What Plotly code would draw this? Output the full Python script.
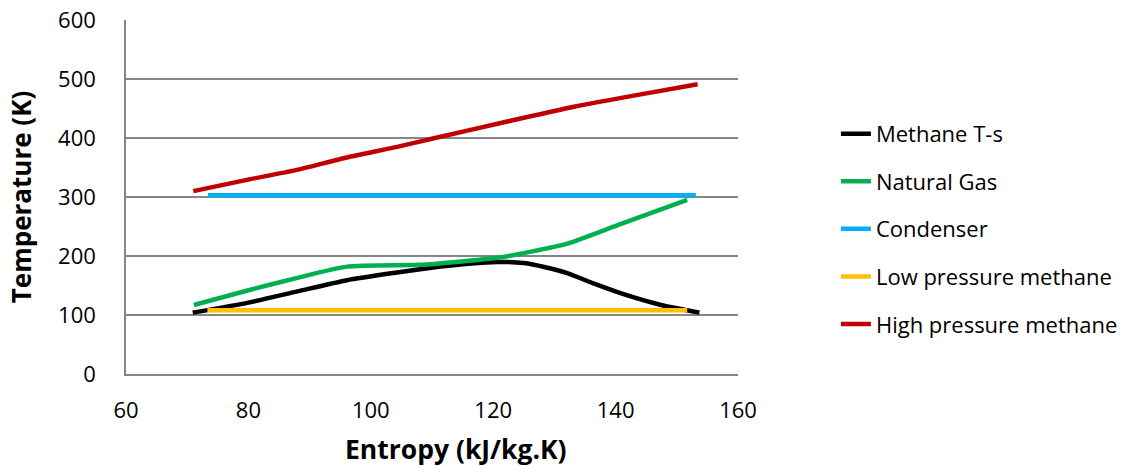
import plotly.graph_objects as go

# Data
methane_s = [70.9, 80.0, 88.0, 96.1, 104.3, 111.4, 116.0, 120.7, 125.0, 128.5, 132.1, 136.5, 140.8, 147.4, 153.7]
methane_T = [104, 121, 140, 159, 172, 182, 187, 190, 188, 181, 171, 153, 137, 117, 104]

gas_s = [71.1, 80.0, 88.0, 96.1, 108.1, 114.0, 120.7, 126.0, 132.1, 141.0, 151.7]
gas_T = [117, 142, 163, 182, 185, 190, 197, 207, 221, 255, 295]

cond_s = [73.4, 153.1]
cond_T = [303, 303]

lp_s = [73.3, 151.7]
lp_T = [108, 108]

hp_s = [71.0, 79.75, 87.9, 96.1, 104.3, 110.5, 122.3, 133.2, 144.1, 153.4]
hp_T = [310, 329, 346, 367, 385, 400, 428, 453, 474, 491]

series = [
    ("Methane T-s", methane_s, methane_T, "#000000", "spline"),
    ("Natural Gas", gas_s, gas_T, "#00B050", "spline"),
    ("Condenser", cond_s, cond_T, "#00B0F0", "linear"),
    ("Low pressure methane", lp_s, lp_T, "#FFC000", "linear"),
    ("High pressure methane", hp_s, hp_T, "#C00000", "spline"),
]

x_title = "Entropy (kJ/kg.K)"
y_title = "Temperature (K)"

fig = go.Figure()
for i, (name, xs, ys, col, shape) in enumerate(series):
    fig.add_trace(go.Scatter(
        x=xs, y=ys, mode="lines", name=name, legendgroup=str(i),
        line=dict(color=col, width=4.5, shape=shape, smoothing=0.6),
    ))

font_family = "Open Sans, Liberation Sans, sans-serif"
fig.update_layout(
    width=1136, height=466,
    margin=dict(l=126, r=398, t=20, b=92),
    paper_bgcolor="white", plot_bgcolor="white",
    font=dict(family=font_family, size=21, color="#000000"),
    showlegend=True,
    legend=dict(
        x=1.160, y=0.41, xanchor="left", yanchor="middle",
        traceorder="grouped", tracegroupgap=16,
        font=dict(family=font_family, size=22, color="#000000"),
        bgcolor="rgba(0,0,0,0)",
    ),
    xaxis=dict(
        range=[60, 160], dtick=20, tick0=60, showgrid=False,
        showline=True, linecolor="#868686", linewidth=1.5,
        ticks="", ticklabelstandoff=16, zeroline=False, automargin=False,
        tickfont=dict(size=22),
    ),
    yaxis=dict(
        range=[0, 600], dtick=100, tick0=0, showgrid=True,
        gridcolor="#868686", gridwidth=1.5,
        showline=True, linecolor="#868686", linewidth=1.5,
        ticks="", ticklabelstandoff=24, zeroline=False, automargin=False,
        tickfont=dict(size=22),
        title=dict(text="<b>" + y_title + "</b>", font=dict(size=26), standoff=19),
    ),
    annotations=[dict(
        text="<b>" + x_title + "</b>", xref="paper", yref="paper",
        x=0.540, y=-0.213, xanchor="center", yanchor="middle",
        showarrow=False, font=dict(family=font_family, size=26.5, color="#000000"),
    )],
)

fig.write_html("out.html")
